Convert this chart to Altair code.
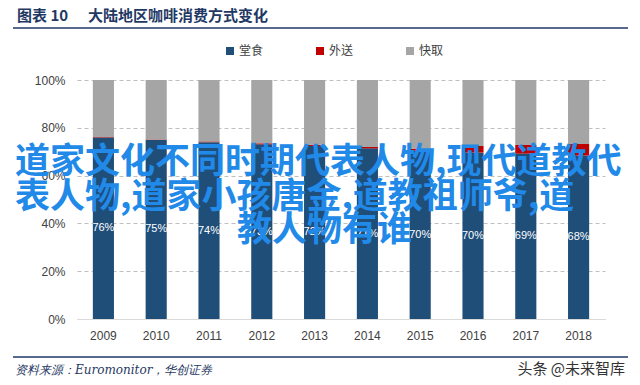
import altair as alt
import pandas as pd

years = ["2009", "2010", "2011", "2012", "2013", "2014", "2015", "2016", "2017", "2018"]
types = ["堂食", "外送", "快取"]
colors = ["#1F4E79", "#C00000", "#A5A5A5"]
dine_in = [75.9, 74.9, 74.0, 73.1, 72.4, 71.4, 70.4, 69.6, 69.2, 68.4]
delivery = [0.2, 0.2, 0.3, 0.4, 0.5, 0.6, 0.9, 2.8, 3.6, 4.8]
takeaway = [23.9, 24.9, 25.7, 26.5, 27.1, 28.0, 28.7, 27.6, 27.2, 26.8]
y_ticks = [0, 20, 40, 60, 80, 100]

title_num = "图表 10"
title_text = "大陆地区咖啡消费方式变化"
source_text = "资料来源：Euromonitor，华创证券"
watermark = "头条 @未来智库"
overlay_lines = [
    "道家文化不同时期代表人物,现代道教代",
    "表人物,道家小孩唐金,道教祖师爷,道",
    "教人物有谁",
]

rows = []
for i, y in enumerate(years):
    for k, (t, vals) in enumerate(zip(types, [dine_in, delivery, takeaway])):
        rows.append({"year": y, "type": t, "value": vals[i], "ord": k})
df = pd.DataFrame(rows)

lab = pd.DataFrame({"year": years, "v": dine_in})

x_enc = alt.X(
    "year:N",
    title=None,
    scale=alt.Scale(paddingInner=0.6, paddingOuter=0.3),
    axis=alt.Axis(labelAngle=0, ticks=False, domainColor="#D9D9D9", labelPadding=11,
                  labelFontSize=12, labelColor="#404040", labelFont="Liberation Sans", grid=False),
)

bars = alt.Chart(df).mark_bar().encode(
    x=x_enc,
    y=alt.Y("value:Q", stack="zero", title=None,
            scale=alt.Scale(domain=[0, 100], nice=False),
            axis=alt.Axis(values=y_ticks, labelExpr="datum.value + '%'", domain=False, ticks=False,
                          labelPadding=12, labelFontSize=12, labelColor="#404040",
                          labelFont="Liberation Sans", grid=True, gridColor="#BFBFBF",
                          gridDash=[4, 3])),
    color=alt.Color("type:N", scale=alt.Scale(domain=types, range=colors),
                    legend=alt.Legend(title=None, orient="none", direction="horizontal", columns=3,
                                      legendX=147, legendY=-35, symbolType="square", symbolSize=64,
                                      symbolStrokeWidth=0, labelFontSize=12, labelColor="#404040",
                                      labelFont="Noto Sans CJK SC", columnPadding=50, labelOffset=3)),
    order=alt.Order("ord:Q", sort="ascending"),
)

labels = alt.Chart(lab).transform_calculate(
    mid="datum.v / 2", txt="format(datum.v, '.0f') + '%'"
).mark_text(color="white", fontSize=11, font="Liberation Sans").encode(
    x="year:N", y="mid:Q", text="txt:N"
)

one = pd.DataFrame({"a": [0]})

def txt(s, x, y, **kw):
    return alt.Chart(pd.DataFrame({"t": [s]})).mark_text(**kw).encode(
        x=alt.value(x), y=alt.value(y), text="t:N")

def hline(y, color, w):
    return alt.Chart(one).mark_rule(color=color, strokeWidth=w).encode(
        x=alt.value(-64), x2=alt.value(551), y=alt.value(y))

t1 = txt(title_num, -60, -64, align="left", baseline="middle", fontSize=15, fontWeight="bold",
         color="#1F3864", font="Noto Sans CJK SC")
t2 = txt(title_text, 11, -64, align="left", baseline="middle", fontSize=15, fontWeight="bold",
         color="#1F3864", font="Noto Sans CJK SC")
l1 = hline(-52, "#1F3864", 1.5)
l2 = hline(277, "#1F3864", 1.5)
src = txt(source_text, -62, 290, align="left", baseline="middle", fontSize=12, fontStyle="italic",
          color="#1F3864", font="DejaVu Serif")
wm = txt(watermark, 548, 289, align="right", baseline="middle", fontSize=15, color="#333333",
         font="Noto Sans CJK SC")

ov = [
    txt(overlay_lines[0], -62, 82, align="left", baseline="middle", fontSize=35, fontWeight="bold",
        color="#2189E8", font="Noto Sans CJK SC"),
    txt(overlay_lines[1], -62, 117, align="left", baseline="middle", fontSize=35, fontWeight="bold",
        color="#2189E8", font="Noto Sans CJK SC"),
    txt(overlay_lines[2], 160, 150, align="left", baseline="middle", fontSize=35, fontWeight="bold",
        color="#2189E8", font="Noto Sans CJK SC"),
]

chart = alt.layer(bars, labels, t1, t2, l1, l2, src, wm, *ov).properties(
    width=528, height=239,
    autosize=alt.AutoSizeParams(type="none"),
    padding={"left": 69, "top": 72, "right": 27, "bottom": 58},
    background="white",
).configure_view(stroke=None)

chart.save("out.html", embed_options={"renderer": "svg", "actions": False})
